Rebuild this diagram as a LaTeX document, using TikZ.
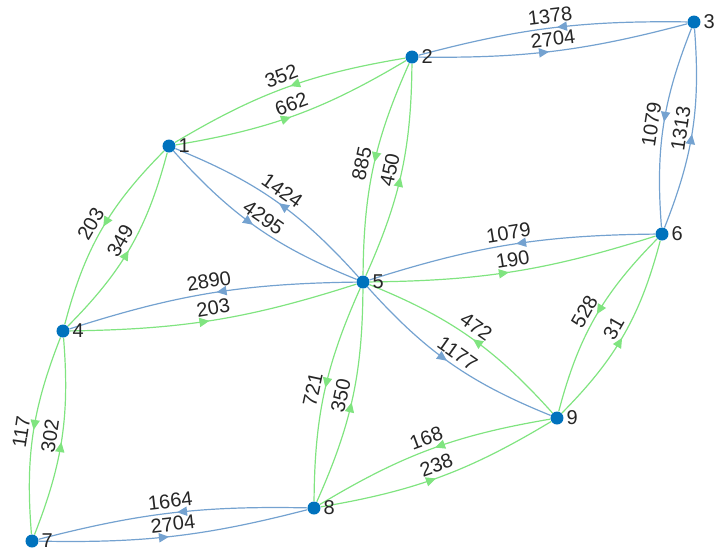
\documentclass[tikz,border=0pt]{standalone}
\usepackage{fontspec}
\setmainfont{Liberation Sans}
\usetikzlibrary{arrows.meta,decorations.markings}

\definecolor{nodeblue}{RGB}{0,114,189}
\definecolor{heavyedge}{RGB}{116,162,208}
\definecolor{lightedge}{RGB}{128,228,128}
\definecolor{labeltext}{RGB}{38,38,38}

\pgfdeclarelayer{edges}
\pgfsetlayers{edges,main}

\tikzset{
  vertex/.style={circle, fill=nodeblue, inner sep=0pt, minimum size=6.5pt,
    label={[label distance=1.2pt, inner sep=0pt, text=labeltext,
            font=\fontsize{10}{12}\selectfont]right:#1}},
  flow/.style={line width=0.6pt, postaction={decorate},
    decoration={markings, mark=at position 0.48 with
      {\arrow{Triangle[length=5pt,width=4.6pt]}}}},
  heavyflow/.style={flow, draw=heavyedge, color=heavyedge},
  lightflow/.style={flow, draw=lightedge, color=lightedge},
  weight/.style={midway, sloped, above=1pt, inner sep=1.2pt, text=labeltext,
    font=\fontsize{10}{12}\selectfont},
}

\begin{document}
\begin{tikzpicture}[x=0.5pt, y=-0.5pt]
  \useasboundingbox (0,0) rectangle (720,553);

  % vertices
  \node[vertex=1] (n1) at (169,146) {};
  \node[vertex=2] (n2) at (412,57) {};
  \node[vertex=3] (n3) at (694,22) {};
  \node[vertex=4] (n4) at (63,331) {};
  \node[vertex=5] (n5) at (363,282) {};
  \node[vertex=6] (n6) at (662,234) {};
  \node[vertex=7] (n7) at (32,541) {};
  \node[vertex=8] (n8) at (314,508) {};
  \node[vertex=9] (n9) at (557,418) {};

  % weighted directed edges, each pair bent apart
  \begin{pgfonlayer}{edges}
    \draw[lightflow] (n1) to[bend right=10.7] node[weight]{662} (n2);
    \draw[lightflow] (n2) to[bend right=10.7] node[weight]{352} (n1);

    \draw[heavyflow] (n2) to[bend right=7.8] node[weight]{2704} (n3);
    \draw[heavyflow] (n3) to[bend right=7.8] node[weight]{1378} (n2);

    \draw[heavyflow] (n1) to[bend right=13] node[weight]{4295} (n5);
    \draw[heavyflow] (n5) to[bend right=13] node[weight]{1424} (n1);

    \draw[lightflow] (n1) to[bend right=15] node[weight]{203} (n4);
    \draw[lightflow] (n4) to[bend right=15] node[weight]{349} (n1);

    \draw[lightflow] (n2) to[bend right=11.8] node[weight]{885} (n5);
    \draw[lightflow] (n5) to[bend right=11.8] node[weight]{450} (n2);

    \draw[heavyflow] (n3) to[bend right=13] node[weight]{1079} (n6);
    \draw[heavyflow] (n6) to[bend right=13] node[weight]{1313} (n3);

    \draw[lightflow] (n4) to[bend right=8.5] node[weight]{203} (n5);
    \draw[heavyflow] (n5) to[bend right=8.5] node[weight]{2890} (n4);

    \draw[lightflow] (n5) to[bend right=8.5] node[weight]{190} (n6);
    \draw[heavyflow] (n6) to[bend right=8.5] node[weight]{1079} (n5);

    \draw[heavyflow] (n5) to[bend right=13] node[weight]{1177} (n9);
    \draw[lightflow] (n9) to[bend right=13] node[weight]{472} (n5);

    \draw[lightflow] (n6) to[bend right=15] node[weight]{528} (n9);
    \draw[lightflow] (n9) to[bend right=15] node[weight]{31} (n6);

    \draw[lightflow] (n4) to[bend right=13] node[weight]{117} (n7);
    \draw[lightflow] (n7) to[bend right=13] node[weight]{302} (n4);

    \draw[lightflow] (n5) to[bend right=11.8] node[weight]{721} (n8);
    \draw[lightflow] (n8) to[bend right=11.8] node[weight]{350} (n5);

    \draw[lightflow] (n8) to[bend right=10.7] node[weight]{238} (n9);
    \draw[lightflow] (n9) to[bend right=10.7] node[weight]{168} (n8);

    \draw[heavyflow] (n7) to[bend right=7.8] node[weight]{2704} (n8);
    \draw[heavyflow] (n8) to[bend right=7.8] node[weight]{1664} (n7);
  \end{pgfonlayer}
\end{tikzpicture}
\end{document}
